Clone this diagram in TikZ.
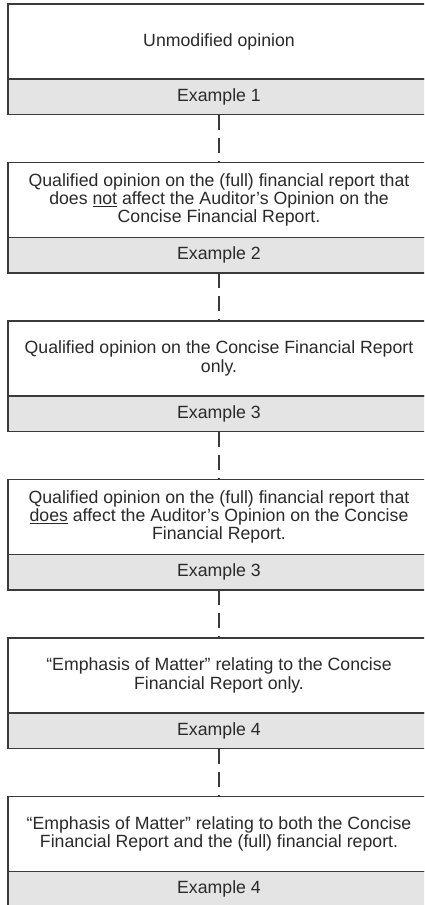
\documentclass[tikz,border=0pt]{standalone}
\usepackage{fontspec}
\setmainfont{Liberation Sans}
\usepackage{tikz}
\usetikzlibrary{positioning}
\definecolor{boxline}{HTML}{3A3A3A}
\definecolor{boxgray}{HTML}{E4E4E4}
\definecolor{boxtext}{HTML}{2A2A2A}
\tikzset{
    %Define style for the opinion boxes
    opinionrect/.style={
           rectangle,
           draw=boxline, line width=1.4pt,
           fill=white,
           minimum width=422pt,
           minimum height=75pt,
           outer sep=0pt,
           align=center,
           text=boxtext,
           font=\fontsize{17.7}{18.3}\selectfont},
    %Define style for the example strips
    examplerect/.style={
           rectangle,
           draw=boxline, line width=1.4pt,
           fill=boxgray,
           minimum width=422pt,
           minimum height=35.5pt,
           outer sep=0pt,
           text=boxtext,
           font=\fontsize{17.7}{18.3}\selectfont},
    % Define connector style
    link/.style={
           draw=boxline,
           line width=1.4pt,
           dash pattern=on 15pt off 8pt}
}
\begin{document}
\begin{tikzpicture}[node distance=48pt]
 \clip (-219pt,41.5pt) rectangle (205pt,-863.5pt);

 %nodes
\node[opinionrect](op1) at (0,0){Unmodified opinion};
\node[examplerect, below=0pt of op1](ex1){Example 1};
\node[opinionrect, below=of ex1](op2){Qualified opinion on the (full) financial report that\\
  does \underline{not} affect the Auditor’s Opinion on the\\ Concise Financial Report.};
\node[examplerect, below=0pt of op2](ex2){Example 2};
\node[opinionrect, below=of ex2](op3){Qualified opinion on the Concise Financial Report\\ only.};
\node[examplerect, below=0pt of op3](ex3){Example 3};
\node[opinionrect, below=of ex3](op4){Qualified opinion on the (full) financial report that\\
  \underline{does} affect the Auditor’s Opinion on the Concise\\ Financial Report.};
\node[examplerect, below=0pt of op4](ex4){Example 3};
\node[opinionrect, below=of ex4](op5){“Emphasis of Matter” relating to the Concise\\ Financial Report only.};
\node[examplerect, below=0pt of op5](ex5){Example 4};
\node[opinionrect, below=of ex5](op6){“Emphasis of Matter” relating to both the Concise\\
  Financial Report and the (full) financial report.};
\node[examplerect, below=0pt of op6](ex6){Example 4};

 \path[link]
    (ex1) edge (op2)
    (ex2) edge (op3)
    (ex3) edge (op4)
    (ex4) edge (op5)
    (ex5) edge (op6);
\end{tikzpicture}
\end{document}
